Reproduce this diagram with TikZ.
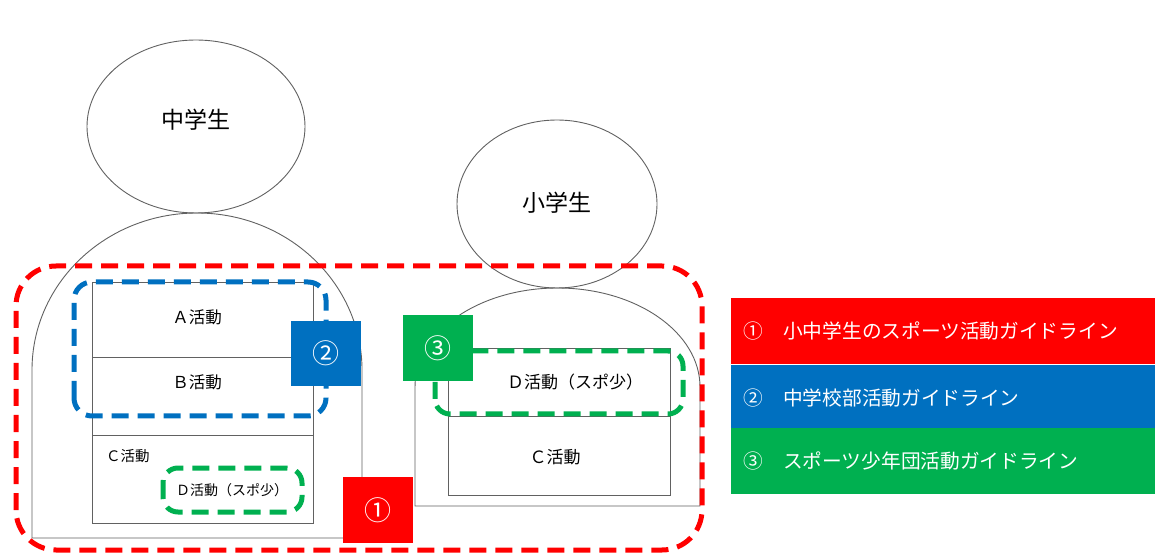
\documentclass[tikz,border=0pt]{standalone}
\usepackage{fontspec}
\setmainfont{Noto Sans CJK JP}
\usepackage{xcolor}
\definecolor{gred}{HTML}{FF0000}
\definecolor{gblue}{HTML}{0070C0}
\definecolor{ggreen}{HTML}{00B050}

\begin{document}
\begin{tikzpicture}[x=1pt, y=1pt]
        % ================= styles =================
        \tikzset{
            % thin grey outlines
            outline/.style={draw=black!62, line width=0.9pt},
            % dashed guideline frames
            guide/.style={line width=5pt, dash pattern=on 17pt off 9pt},
            % coloured number squares
            tagbox/.style={minimum width=70pt, minimum height=66pt, inner sep=0pt, text=white, font=\fontsize{27}{27}\selectfont},
            % activity texts
            acttext/.style={inner sep=0pt, font=\fontsize{16.5}{16.5}\selectfont},
            % legend texts
            legtext/.style={inner sep=0pt, text=white, font=\fontsize{19.7}{19.7}\selectfont}
        }
        \useasboundingbox (0,0) rectangle (1155,554);

        % ================= 1. heads and bodies =================
        \draw[outline] (196,427.5) ellipse [x radius=109, y radius=86.5];
        \draw[outline] (557,350) ellipse [x radius=100, y radius=84];

        % junior high body
        \draw[outline] (32,16) -- (32,184) arc[start angle=180, end angle=0, x radius=165, y radius=157] -- (362,16) -- cycle;
        % elementary body
        \draw[outline] (415,48) -- (415,167) arc[start angle=180, end angle=0, x radius=142.5, y radius=99] -- (700,48) -- cycle;

        % ================= 2. activity boxes =================
        \draw[outline] (92,31) rectangle (313,272);
        \draw[outline] (92,197) -- (313,197);
        \draw[outline] (92,119) -- (313,119);

        \draw[outline] (448,59) rectangle (670,206);
        \draw[outline] (448,138) -- (670,138);

        \node[acttext] (actA) at (197,237) {Ａ活動};
        \node[acttext] (actB) at (197,172) {Ｂ活動};
        \node[acttext, anchor=west, font=\fontsize{14.5}{14.5}\selectfont] (actC) at (106,98) {Ｃ活動};
        \node[acttext, font=\fontsize{14}{14}\selectfont] (actD) at (232,64) {Ｄ活動（スポ少）};

        \node[acttext, font=\fontsize{17}{17}\selectfont] (sD) at (575,172) {Ｄ活動（スポ少）};
        \node[acttext, font=\fontsize{17}{17}\selectfont] (sC) at (555,97) {Ｃ活動};

        % ================= 3. dashed guideline frames =================
        \draw[guide, gred, rounded corners=40pt] (16,4) rectangle (702,288);
        \draw[guide, gblue, rounded corners=18pt] (74,138) rectangle (326,272);
        \draw[guide, ggreen, rounded corners=15pt] (163,42) rectangle (302,86);
        \draw[guide, ggreen, rounded corners=15pt] (435,140) rectangle (683,203);

        % ================= 4. number squares =================
        \node[tagbox, fill=gred] (tag1) at (378,44) {①};
        \node[tagbox, fill=gblue, minimum height=65pt] (tag2) at (326,200.5) {②};
        \node[tagbox, fill=ggreen] (tag3) at (438,206) {③};

        % ================= 5. head labels =================
        \node[font=\fontsize{23}{23}\selectfont] (chu) at (196,434) {中学生};
        \node[font=\fontsize{23}{23}\selectfont] (sho) at (557,351) {小学生};

        % ================= 6. legend =================
        \foreach \i/\c/\n/\t/\yy in {1/gred/①/小中学生のスポーツ活動ガイドライン/256,
                                     2/gblue/②/中学校部活動ガイドライン/189,
                                     3/ggreen/③/スポーツ少年団活動ガイドライン/126}{
            \fill[\c] (731,\yy) rectangle (1155,\yy-66);
            \node[legtext] (num\i) at (753,\yy-33) {\n};
            \node[legtext, anchor=west] (leg\i) at (783,\yy-33) {\t};
        }
\end{tikzpicture}
\end{document}
